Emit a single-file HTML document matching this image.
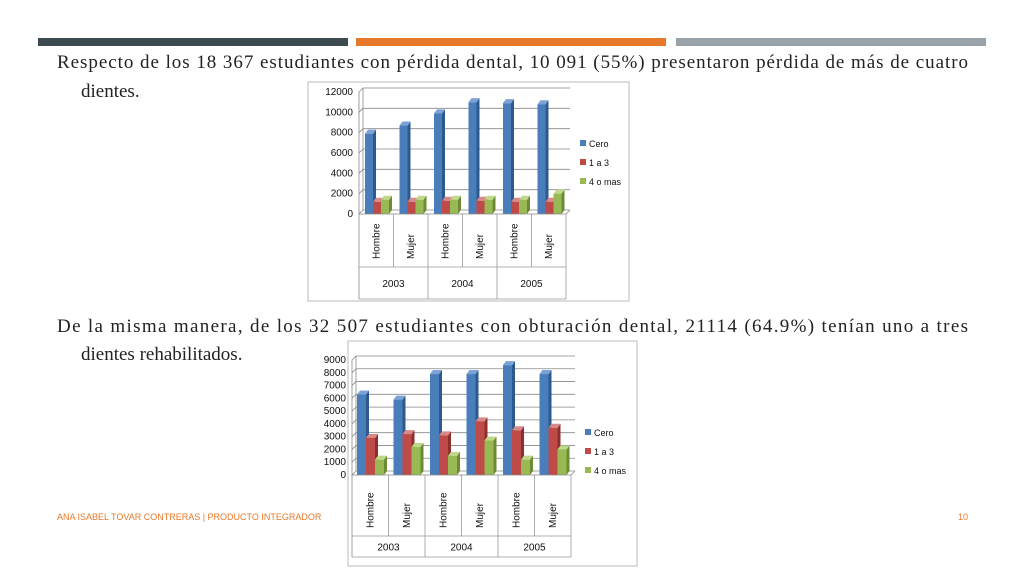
<!DOCTYPE html>
<html><head><meta charset="utf-8"><style>
html,body{margin:0;padding:0;background:#fff;}
svg{display:block;}
.body{font-family:"Liberation Serif",serif;font-size:19px;fill:#222;}
.ax{font-family:"Liberation Sans",sans-serif;font-size:10px;fill:#111;}
</style></head><body>
<svg id="s" width="1024" height="576" xmlns="http://www.w3.org/2000/svg">
<rect x="38" y="38" width="310" height="8" fill="#3d4a50"/>
<rect x="356" y="38" width="310" height="8" fill="#e8792a"/>
<rect x="676" y="38" width="310" height="8" fill="#9aa2a9"/>
<text class="body" x="57" y="68" textLength="911" lengthAdjust="spacing">Respecto de los 18 367 estudiantes con pérdida dental, 10 091 (55%) presentaron pérdida de más de cuatro</text>
<text class="body" x="81" y="97">dientes.</text>
<text class="body" x="57" y="332" textLength="911" lengthAdjust="spacing">De la misma manera, de los 32 507 estudiantes con obturación dental, 21114 (64.9%) tenían uno a tres</text>
<text class="body" x="81" y="360">dientes rehabilitados.</text>
<text x="57" y="520" font-family="Liberation Sans,sans-serif" font-size="9" fill="#e8792a">ANA ISABEL TOVAR CONTRERAS |  PRODUCTO INTEGRADOR</text>
<text x="958" y="520" font-family="Liberation Sans,sans-serif" font-size="9" fill="#e8792a">10</text>
<g id="c1"></g><g id="c2"></g>
</svg>
<script>
const categories=["Hombre","Mujer","Hombre","Mujer","Hombre","Mujer"];
const years=["2003","2004","2005"];
const seriesNames=["Cero","1 a 3","4 o mas"];
const c1Cero=[7900,8700,9900,11000,10900,10800];
const c1Uno=[1200,1200,1300,1300,1200,1200];
const c1Cuatro=[1400,1400,1400,1400,1400,2000];
const c1Ticks=[0,2000,4000,6000,8000,10000,12000];
const c2Cero=[6300,5900,7900,7900,8600,7900];
const c2Uno=[2900,3200,3100,4200,3500,3700];
const c2Cuatro=[1200,2200,1500,2700,1200,2000];
const c2Ticks=[0,1000,2000,3000,4000,5000,6000,7000,8000,9000];
const NS="http://www.w3.org/2000/svg";
const front=["#4a7ebb","#be4b48","#98b954"],side=["#2c5a8f","#8c2f2d","#6d8a35"],topc=["#7da3d6","#d98a88","#bfd98a"];
function mk(p,t,a){const e=document.createElementNS(NS,t);for(const k in a)e.setAttribute(k,a[k]);p.appendChild(e);return e;}
function chart(gid,o,series,ticks){
 const g=document.getElementById(gid);
 const fr=mk(g,"rect",{x:o.fx,y:o.fy,width:o.fw,height:o.fh,fill:"#fff",stroke:"#bbb"});
 
 
 const max=ticks[ticks.length-1];
 const y=v=>o.y0-(v/max)*(o.y0-o.ytop);
 const d=4;
 ticks.forEach(t=>{
  const gl=mk(g,"polyline",{points:`${o.x0},${y(t)+d} ${o.x0+d},${y(t)} ${o.x1+d},${y(t)}`,fill:"none",stroke:"#888","stroke-width":"0.8"});
  
  
  const tl=mk(g,"text",{x:o.x0-6,y:y(t)+d+3,"text-anchor":"end",class:"ax"});tl.textContent=t;
  
  
 });
 mk(g,"line",{x1:o.x0+d,y1:y(max),x2:o.x0+d,y2:y(0),stroke:"#888","stroke-width":"0.8"});
 mk(g,"line",{x1:o.x0,y1:y(max)+d,x2:o.x0,y2:o.yb,stroke:"#888","stroke-width":"0.8"});
 const cw=(o.x1-o.x0)/categories.length;
 categories.forEach((c,i)=>{
  const cx=o.x0+i*cw;
  mk(g,"line",{x1:cx+cw,y1:y(0)+d,x2:cx+cw,y2:(i%2==1)?o.yb:o.ylab,stroke:"#999","stroke-width":"0.8"});
  const t=mk(g,"text",{class:"ax",transform:`translate(${cx+cw/2+3},${o.ylab-8}) rotate(-90)`});t.textContent=c;
  
  
  series.forEach((s,k)=>{
   const bw=o.bw,bx=cx+o.off+k*bw,by=y(s[i])+d,b0=y(0)+d;
   mk(g,"polygon",{points:`${bx+bw},${by} ${bx+bw+d-1},${by-d} ${bx+bw+d-1},${b0-d} ${bx+bw},${b0}`,fill:side[k]});
   mk(g,"polygon",{points:`${bx},${by} ${bx+d-1},${by-d} ${bx+bw+d-1},${by-d} ${bx+bw},${by}`,fill:topc[k]});
   const r=mk(g,"rect",{x:bx,y:by,width:bw,height:b0-by,fill:front[k]});
   
   
  });
 });
 mk(g,"line",{x1:o.x0,y1:y(0)+d,x2:o.x1,y2:y(0)+d,stroke:"#888","stroke-width":"0.8"});
 mk(g,"line",{x1:o.x1,y1:y(0)+d,x2:o.x1+d,y2:y(0),stroke:"#888","stroke-width":"0.8"});
 mk(g,"line",{x1:o.x0,y1:o.ylab,x2:o.x1,y2:o.ylab,stroke:"#999","stroke-width":"0.8"});
 mk(g,"line",{x1:o.x0,y1:o.yb,x2:o.x1,y2:o.yb,stroke:"#999","stroke-width":"0.8"});
 years.forEach((yr,j)=>{
  const t=mk(g,"text",{x:o.x0+(j+0.5)*2*cw,y:(o.ylab+o.yb)/2+4,"text-anchor":"middle",class:"ax"});t.textContent=yr;
  
  
 });
 seriesNames.forEach((n,k)=>{
  mk(g,"rect",{x:o.lx,y:o.ly+k*19-6,width:6,height:6,fill:front[k]});
  const t=mk(g,"text",{x:o.lx+9,y:o.ly+k*19+1,class:"ax",style:"font-size:9px"});t.textContent=n;
  
  
 });
}
chart("c1",{fx:308,fy:82,fw:321,fh:219,x0:359,x1:566,ytop:88,y0:210,ylab:267,yb:299,bw:8,off:6,lx:580,ly:146},[c1Cero,c1Uno,c1Cuatro],c1Ticks);
chart("c2",{fx:348,fy:341,fw:289,fh:225,x0:352,x1:571,ytop:356,y0:471,ylab:536,yb:557,bw:9,off:5,lx:585,ly:435},[c2Cero,c2Uno,c2Cuatro],c2Ticks);
</script>
</body></html>
